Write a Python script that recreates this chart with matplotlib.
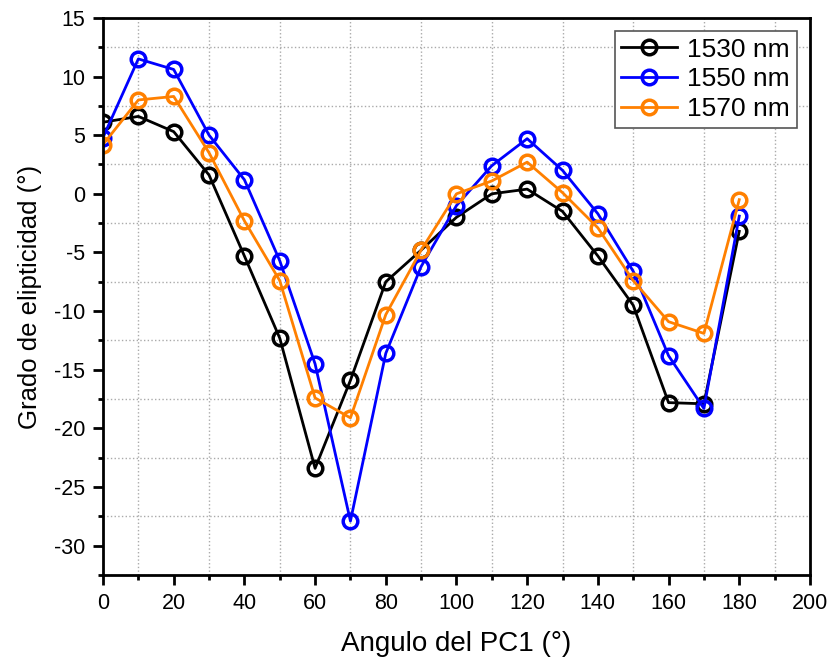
import numpy as np
import matplotlib.pyplot as plt
from matplotlib.ticker import MultipleLocator

plt.rcParams['font.family'] = ['Liberation Sans', 'DejaVu Sans']
plt.rcParams['axes.unicode_minus'] = False

# Data
angle = [0, 10, 20, 30, 40, 50, 60, 70, 80, 90, 100, 110, 120, 130, 140, 150, 160, 170, 180]
ell_1530 = [6.1, 6.6, 5.3, 1.6, -5.3, -12.3, -23.4, -15.9, -7.5, -4.8, -2.0, 0.0, 0.4, -1.5, -5.3, -9.5, -17.8, -17.9, -3.2]
ell_1550 = [4.8, 11.5, 10.6, 5.0, 1.2, -5.7, -14.5, -27.9, -13.6, -6.2, -1.0, 2.4, 4.7, 2.0, -1.7, -6.6, -13.8, -18.3, -1.9]
ell_1570 = [4.2, 8.0, 8.3, 3.5, -2.3, -7.4, -17.4, -19.1, -10.3, -4.8, 0.0, 1.1, 2.7, 0.1, -2.9, -7.4, -10.9, -11.9, -0.5]

series = [("1530 nm", ell_1530, "black"),
          ("1550 nm", ell_1550, "#0000ff"),
          ("1570 nm", ell_1570, "#ff8000")]

fig = plt.figure(figsize=(8.28, 6.61), dpi=100)
ax = fig.add_axes([0.1244, 0.130, 0.8538, 0.843])

for label, vals, col in series:
    ax.plot(angle, vals, color=col, lw=2, marker='o', ms=10.5,
            mfc='none', mec=col, mew=2.5, label=label)

ax.set_xlim(0, 200)
ax.set_ylim(-32.5, 15)
ax.xaxis.set_major_locator(MultipleLocator(20))
ax.xaxis.set_minor_locator(MultipleLocator(10))
ax.yaxis.set_major_locator(MultipleLocator(5))
ax.yaxis.set_minor_locator(MultipleLocator(2.5))

ax.grid(which='minor', linestyle=':', color='#aaaaaa', lw=1)
ax.grid(which='major', visible=False)

for s in ax.spines.values():
    s.set_linewidth(2)
ax.tick_params(which='major', direction='out', length=7, width=2, labelsize=15.5, pad=6)
ax.tick_params(which='minor', direction='out', length=3.8, width=2)
ax.tick_params(top=False, right=False, which='both')

ax.set_xlabel("Angulo del PC1 (°)", fontsize=20, labelpad=12)
ax.set_ylabel("Grado de elipticidad (°)", fontsize=18.5, labelpad=8)

leg = ax.legend(loc='upper right', fontsize=19, fancybox=False, framealpha=1,
                edgecolor='#555555', handlelength=2.1, borderpad=0.25,
                labelspacing=0.22, handletextpad=0.4, borderaxespad=0.5)
leg.get_frame().set_linewidth(1.2)

fig.savefig("out.png", dpi=100)
